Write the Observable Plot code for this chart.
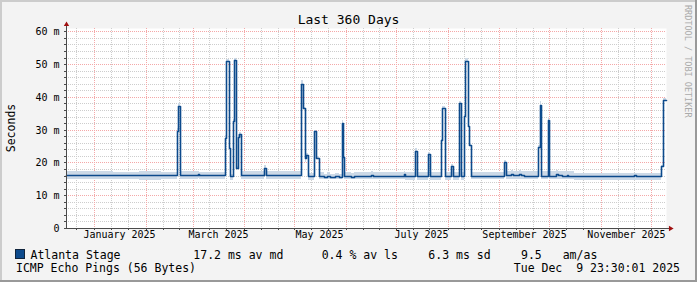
<!DOCTYPE html>
<html>
<head>
<meta charset="utf-8">
<script src="https://cdn.jsdelivr.net/npm/d3@7"></script>
<script src="https://cdn.jsdelivr.net/npm/@observablehq/plot@0.6"></script>
<style>
  body { margin: 0; background: #fff; }
  #wrap { position: relative; width: 697px; height: 282px; background: #f3f3f3; overflow: hidden; font-family: "DejaVu Sans Mono", monospace; }
  #chart, #overlay { position: absolute; left: 0; top: 0; }
  #overlay text { font-family: "DejaVu Sans Mono", monospace; }
</style>
</head>
<body>
<div id="wrap"><div id="chart"></div><svg id="overlay" width="697" height="282"></svg></div>
<script>
// ---------- data ----------
const title = "Last 360 Days";
const yAxisTitle = "Seconds";
const timeStart = "2024-12-14T23:30:00Z";
const timeEnd = "2025-12-09T23:30:00Z";

const sampleTimes = [
  "2024-12-14T23:30Z","2024-12-28T00:00Z","2025-01-12T00:00Z","2025-01-28T00:00Z","2025-02-10T00:00Z",
  "2025-02-19T10:00Z","2025-02-20T09:00Z","2025-02-21T05:00Z","2025-03-04T04:00Z","2025-03-05T00:00Z",
  "2025-03-20T05:00Z","2025-03-21T04:00Z","2025-03-22T14:00Z","2025-03-23T05:00Z","2025-03-25T09:00Z",
  "2025-03-25T23:00Z","2025-03-27T04:00Z","2025-03-28T09:00Z","2025-03-28T23:00Z","2025-03-30T04:00Z",
  "2025-04-12T19:00Z","2025-04-14T04:00Z","2025-05-05T04:00Z","2025-05-06T09:00Z","2025-05-07T05:00Z",
  "2025-05-07T19:00Z","2025-05-09T09:00Z","2025-05-12T23:00Z","2025-05-13T19:00Z","2025-05-15T12:00Z",
  "2025-05-18T19:00Z","2025-05-20T14:00Z","2025-05-22T09:00Z","2025-05-25T09:00Z","2025-05-27T19:00Z",
  "2025-05-29T10:00Z","2025-05-30T09:00Z","2025-05-30T23:00Z","2025-05-31T23:00Z","2025-06-03T23:00Z",
  "2025-06-05T19:00Z","2025-06-15T23:00Z","2025-06-17T04:00Z","2025-07-05T12:00Z","2025-07-06T09:00Z",
  "2025-07-12T05:00Z","2025-07-13T10:00Z","2025-07-20T09:00Z","2025-07-21T05:00Z","2025-07-27T19:00Z",
  "2025-07-28T18:00Z","2025-07-30T02:00Z","2025-08-03T04:00Z","2025-08-04T09:00Z","2025-08-07T19:00Z",
  "2025-08-09T04:00Z","2025-08-10T12:00Z","2025-08-11T02:00Z","2025-08-13T09:00Z","2025-08-13T23:00Z",
  "2025-08-15T04:00Z","2025-09-03T19:00Z","2025-09-05T04:00Z","2025-09-07T19:00Z","2025-09-09T04:00Z",
  "2025-09-12T19:00Z","2025-09-14T04:00Z","2025-09-15T19:00Z","2025-09-18T09:00Z","2025-09-24T09:00Z",
  "2025-09-25T05:00Z","2025-09-26T04:00Z","2025-09-30T04:00Z","2025-09-30T23:00Z","2025-10-05T04:00Z",
  "2025-10-06T04:00Z","2025-10-07T19:00Z","2025-10-08T18:00Z","2025-10-11T10:00Z","2025-10-12T09:00Z",
  "2025-10-15T19:00Z","2025-11-20T19:00Z","2025-11-22T04:00Z","2025-12-06T23:00Z","2025-12-08T09:00Z",
  "2025-12-09T23:30Z"
];
const medianMs = [
  16.1,16.1,16.1,16.1,16.1,
  29.5,37.1,16.1,16.5,16.1,
  27.6,50.8,24.4,16.0,32.5,
  51.1,18.3,27.9,28.6,16.1,
  18.3,16.1,43.9,36.5,21.3,
  22.3,16.0,29.5,21.5,15.8,
  15.6,15.8,15.6,15.9,15.6,
  31.9,21.7,16.0,15.8,15.7,
  16.0,16.2,16.0,16.5,16.0,
  23.4,16.0,22.6,16.0,26.8,
  36.5,16.0,18.8,16.0,38.0,
  16.0,34.2,50.8,31.0,25.3,
  16.0,20.0,16.2,16.5,16.1,
  16.4,16.1,15.8,16.0,24.6,
  37.5,15.9,32.9,15.9,16.5,
  16.1,16.3,16.0,16.3,16.0,
  15.9,16.2,15.9,18.8,39.1,
  39.1
];
const smokeLowMs = [
  14.8,14.9,14.8,14.7,14.9,
  29.2,36.8,14.8,15.2,14.8,
  27.3,50.5,24.1,14.6,32.2,
  50.8,18.0,27.6,28.3,14.8,
  18.0,14.8,43.6,36.2,20.0,
  22.0,14.6,29.2,21.2,14.9,
  14.9,14.9,14.9,14.9,14.9,
  31.6,21.4,14.8,14.8,14.8,
  14.8,14.9,14.8,15.0,14.7,
  23.1,14.7,22.3,14.7,26.5,
  36.2,14.6,18.5,14.7,37.7,
  14.7,33.9,50.5,30.7,25.0,
  14.8,19.7,15.0,15.0,15.0,
  15.0,15.0,14.8,14.8,24.3,
  37.2,14.8,32.6,14.8,15.0,
  14.9,15.0,14.9,15.0,14.9,
  14.7,14.7,14.7,18.5,38.8,
  38.8
];
const smokeHighMs = [
  17.3,17.5,17.2,17.5,17.2,
  30.5,38.2,17.3,17.4,17.2,
  28.4,51.6,25.0,16.6,33.2,
  51.9,19.0,28.6,29.3,17.3,
  19.2,17.3,45.0,37.0,21.6,
  22.8,16.8,30.0,22.0,17.0,
  16.6,17.0,16.6,16.8,16.6,
  32.8,22.2,17.0,17.0,16.8,
  17.2,17.3,17.0,17.4,17.2,
  24.3,17.0,23.2,17.0,27.2,
  37.3,17.0,19.6,17.0,38.8,
  17.0,34.8,51.8,31.5,25.8,
  17.2,20.8,17.4,17.6,17.4,
  17.7,17.4,17.3,17.4,25.2,
  38.6,17.3,33.8,17.4,17.6,
  17.4,17.4,17.3,17.4,17.3,
  16.9,16.9,16.9,19.3,39.5,
  39.5
];

const yTickValues = [0, 10, 20, 30, 40, 50, 60];
const yTickLabels = ["0", "10 m", "20 m", "30 m", "40 m", "50 m", "60 m"];
const xLabelTimes = ["2025-01-16T00:00Z","2025-03-16T00:00Z","2025-05-16T00:00Z","2025-07-16T00:00Z","2025-09-16T00:00Z","2025-11-16T00:00Z"];
const xLabelTexts = ["January 2025","March 2025","May 2025","July 2025","September 2025","November 2025"];

const legendName = "Atlanta Stage";
const legendStats = ["17.2 ms av md", "0.4 % av ls", "6.3 ms sd", "9.5", "am/as"];
const footerLeft = "ICMP Echo Pings (56 Bytes)";
const footerRight = "Tue Dec  9 23:30:01 2025";
const watermark = "RRDTOOL / TOBI OETIKER";

// ---------- chart ----------
const lineColor = "#0c4a8c";
const smokeColor = "#ccd9e7";
const axisColor = "#4a4a4a";
const arrowColor = "#a01010";
const minorGrid = "#cdcdcd";
const majorGrid = "#f4a8a8";

const rows = sampleTimes.map((t, i) => ({
  t: new Date(t), med: medianMs[i], lo: smokeLowMs[i], hi: smokeHighMs[i]
}));
const start = new Date(timeStart), end = new Date(timeEnd);
const majorX = d3.utcMonth.range(start, end);
const minorX = d3.utcDay.range(start, end).filter(d => d.getUTCDate() === 11 || d.getUTCDate() === 21);
const majorY = d3.range(10, 61, 10);
const minorY = d3.range(2, 61, 2).filter(v => v % 10 !== 0);
const allY = d3.range(0, 61, 2);
const xArrowEnd = d3.utcHour.offset(end, 53);
const xArrowTip = d3.utcHour.offset(end, 62);

const chart = Plot.plot({
  width: 697,
  height: 282,
  marginLeft: 66,
  marginRight: 31,
  marginTop: 28,
  marginBottom: 54,
  style: { background: "transparent", fontFamily: "DejaVu Sans Mono", fontSize: "10px", color: "#000", overflow: "visible" },
  x: { type: "utc", domain: [start, end], round: true, axis: null, label: null },
  y: { domain: [0, 61], round: true, axis: null, label: null },
  marks: [
    Plot.frame({ fill: "#ffffff", stroke: null }),
    Plot.ruleX(minorX, { stroke: minorGrid, strokeDasharray: "1,1" }),
    Plot.ruleY(minorY, { stroke: minorGrid, strokeDasharray: "1,1" }),
    Plot.ruleX(majorX, { stroke: majorGrid, strokeDasharray: "1,1" }),
    Plot.ruleY(majorY, { stroke: majorGrid, strokeDasharray: "1,1" }),
    Plot.areaY(rows, { x: "t", y1: "lo", y2: "hi", curve: "step-after", fill: smokeColor }),
    Plot.lineY(rows, { x: "t", y: "med", curve: "step-after", stroke: lineColor, strokeWidth: 1.6 }),
    Plot.axisX(majorX.concat(minorX), { anchor: "bottom", tickSize: 2, tickFormat: () => "", label: null, stroke: axisColor }),
    Plot.axisY(allY, { anchor: "left", tickSize: 2, tickFormat: () => "", label: null, stroke: axisColor }),
    Plot.ruleX([start], { y1: 0, y2: 61.8, stroke: axisColor }),
    Plot.ruleY([0], { x1: start, x2: xArrowEnd, stroke: axisColor }),
    Plot.dot([start], { x: d => d, y: () => 62.2, symbol: "triangle", r: 2, fill: arrowColor, stroke: null }),
    Plot.dot([xArrowTip], { x: d => d, y: () => 0, symbol: "triangle", rotate: 90, r: 2, fill: arrowColor, stroke: null }),
    Plot.text(yTickValues, { y: d => d, frameAnchor: "left", textAnchor: "end", dx: -7, text: (d, i) => yTickLabels[i], fontSize: 10, fill: "#000" }),
    Plot.text(xLabelTimes, { x: d => new Date(d), frameAnchor: "bottom", dy: 9, text: (d, i) => xLabelTexts[i], fontSize: 10, fill: "#000" })
  ]
});
document.getElementById("chart").appendChild(chart);

// ---------- title, legend, frame ----------
const ov = d3.select("#overlay");
ov.append("line").attr("x1", 0).attr("y1", 1).attr("x2", 697).attr("y2", 1).attr("stroke", "#cccccc").attr("stroke-width", 2);
ov.append("line").attr("x1", 1).attr("y1", 0).attr("x2", 1).attr("y2", 282).attr("stroke", "#cccccc").attr("stroke-width", 2);
ov.append("line").attr("x1", 696).attr("y1", 0).attr("x2", 696).attr("y2", 282).attr("stroke", "#999999").attr("stroke-width", 2);
ov.append("line").attr("x1", 0).attr("y1", 281).attr("x2", 697).attr("y2", 281).attr("stroke", "#999999").attr("stroke-width", 2);

ov.append("text").attr("x", 348.5).attr("y", 24).attr("text-anchor", "middle")
  .attr("font-size", 13).attr("fill", "#000").text(title);
ov.append("text").attr("transform", "translate(14.5,128) rotate(-90)").attr("text-anchor", "middle")
  .attr("font-size", 11.5).attr("fill", "#000").text(yAxisTitle);
ov.append("text").attr("transform", "translate(685,5) rotate(90)")
  .attr("font-size", 8.5).attr("fill", "#aaaaaa").text(watermark);

ov.append("rect").attr("x", 15.5).attr("y", 249.5).attr("width", 9).attr("height", 9)
  .attr("fill", lineColor).attr("stroke", "#10243c").attr("stroke-width", 1);
ov.append("text").attr("x", 30.5).attr("y", 258.5).attr("font-size", 11.5).attr("fill", "#000").text(legendName);
const statX = [193.3, 321.7, 428.3, 521, 562.7];
legendStats.forEach((s, i) => {
  ov.append("text").attr("x", statX[i]).attr("y", 258.5).attr("font-size", 11.5).attr("fill", "#000").text(s);
});
ov.append("text").attr("x", 16).attr("y", 271.5).attr("font-size", 11.5).attr("fill", "#000").text(footerLeft);
ov.append("text").attr("x", 680).attr("y", 271.5).attr("text-anchor", "end").attr("font-size", 11.5)
  .attr("fill", "#000").attr("xml:space", "preserve").style("white-space", "pre").text(footerRight);
</script>
</body>
</html>
